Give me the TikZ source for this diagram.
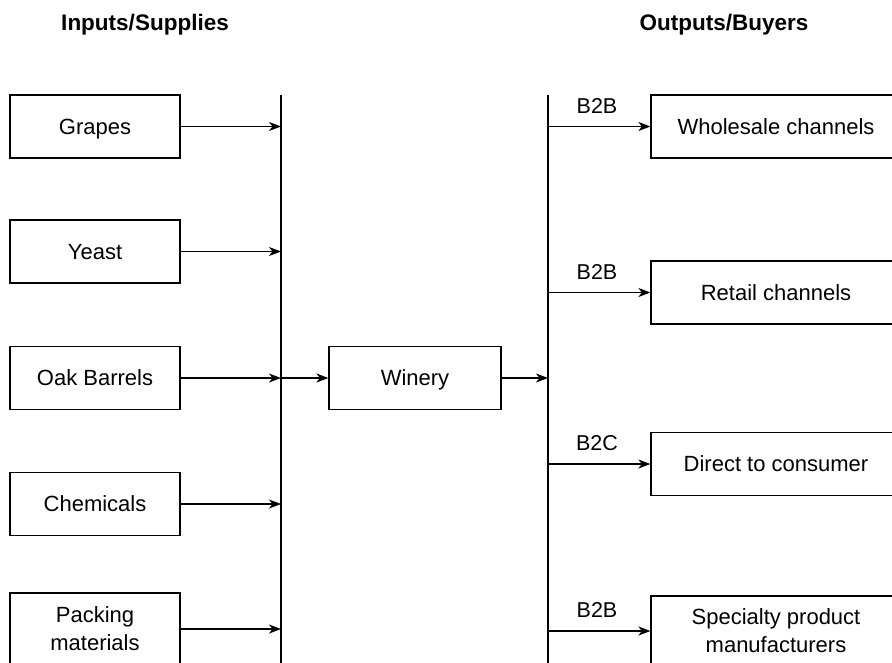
\documentclass[tikz,border=0pt]{standalone}
\usepackage{fontspec}
\setmainfont{Liberation Sans}
\usetikzlibrary{arrows.meta}
\tikzset{
  box/.style={draw, line width=1.2pt, minimum height=63pt, align=center, inner sep=2pt,
    font=\fontsize{22}{28}\selectfont},
  one/.style={text height=19pt, text depth=4pt},
  lbox/.style={box, minimum width=170pt},
  rbox/.style={box, minimum width=250pt},
  head/.style={font=\fontsize{22.5}{26}\selectfont\bfseries},
  lbl/.style={font=\fontsize{21.5}{24}\selectfont},
  bus/.style={line width=1.3pt},
  arr/.style={line width=1.2pt, -{Stealth[length=12pt,width=9pt,inset=3.5pt]}},
}
\begin{document}
\begin{tikzpicture}[x=1pt,y=-1pt]
\useasboundingbox (0,0) rectangle (892,662);
\node[head] (hin) at (145,25) {Inputs/Supplies};
\node[head] (hout) at (724,25) {Outputs/Buyers};

\coordinate (bLt) at (281,95);
\coordinate (bLb) at (281,664);
\coordinate (bRt) at (548,95);
\coordinate (bRb) at (548,664);
\draw[bus] (bLt) -- (bLb);
\draw[bus] (bRt) -- (bRb);

\node[lbox, one] (grapes) at (95,126.5) {Grapes};
\node[lbox, one] (yeast) at (95,251.5) {Yeast};
\node[lbox, one] (oak) at (95,378) {Oak Barrels};
\node[lbox, one] (chem) at (95,504) {Chemicals};
\node[lbox, minimum height=72pt] (pack) at (95,629) {Packing\\materials};

\node[box, one, minimum width=172pt] (winery) at (415,378) {Winery};

\node[rbox, one] (whole) at (776,126.5) {Wholesale channels};
\node[rbox, one] (retail) at (776,292.5) {Retail channels};
\node[rbox, one] (direct) at (776,464) {Direct to consumer};
\node[rbox, minimum height=70pt] (spec) at (776,631) {Specialty product\\manufacturers};

\foreach \n in {grapes,yeast,oak,chem,pack}
  \draw[arr] (\n.east) -- (\n.east -| bLt);
\draw[arr] (oak.east -| bLt) -- (winery.west);
\draw[arr] (winery.east) -- (winery.east -| bRt);

\foreach \n/\t in {whole/B2B,retail/B2B,direct/B2C,spec/B2B}{
  \draw[arr] (\n.west -| bRt) -- (\n.west);
  \node[lbl] (l\n) at ([yshift=21pt]\n.west -| 597,0) {\t};
}
\end{tikzpicture}
\end{document}
